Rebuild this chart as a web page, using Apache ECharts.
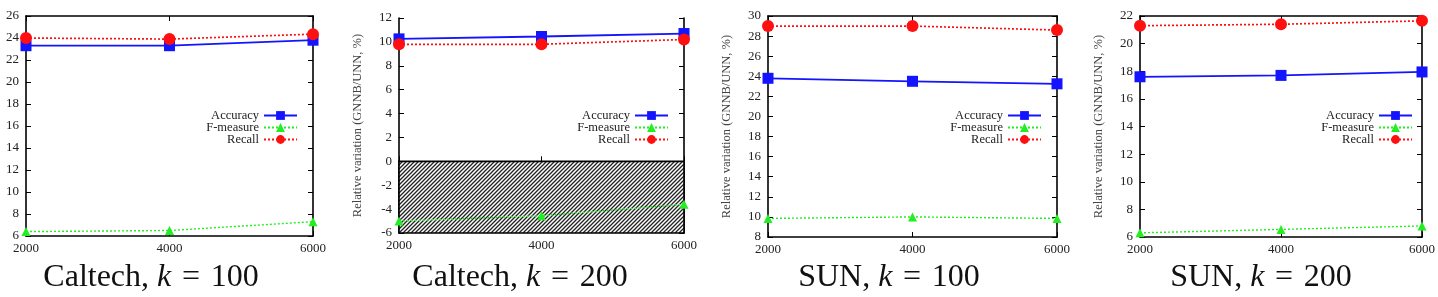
<!DOCTYPE html>
<html>
<head>
<meta charset="utf-8">
<script src="https://cdn.jsdelivr.net/npm/echarts@6/dist/echarts.min.js"></script>
<style>
html,body{margin:0;padding:0;background:#fff;}
#chart{width:1438px;height:297px;}
</style>
</head>
<body>
<div id="chart"></div>
<script>
// ---- data ----
const xValues = [2000, 4000, 6000];
const xTicks = [2000, 4000, 6000];
const seriesNames = ['Accuracy', 'F-measure', 'Recall'];
const panelTitles = ['Caltech, {i|k}\u2004=\u2004100', 'Caltech, {i|k}\u2004=\u2004200', 'SUN, {i|k}\u2004=\u2004100', 'SUN, {i|k}\u2004=\u2004200'];
const yAxisName = 'Relative variation (GNNB/UNN, %)';

const caltech100Accuracy = [23.3, 23.3, 23.8];
const caltech100FMeasure = [6.4, 6.5, 7.3];
const caltech100Recall = [24.0, 23.9, 24.35];

const caltech200Accuracy = [10.25, 10.45, 10.7];
const caltech200FMeasure = [-5.0, -4.55, -3.6];
const caltech200Recall = [9.8, 9.8, 10.2];

const sun100Accuracy = [23.8, 23.5, 23.25];
const sun100FMeasure = [9.85, 10.0, 9.85];
const sun100Recall = [29.0, 29.0, 28.6];

const sun200Accuracy = [17.6, 17.7, 17.95];
const sun200FMeasure = [6.3, 6.55, 6.8];
const sun200Recall = [21.3, 21.4, 21.65];

const yMins = [6, -6, 8, 6];
const yMaxs = [26, 12, 30, 22];
const hatchRange = [-6, 0]; // shaded negative region in Caltech k=200

// ---- layout ----
const panels = [
  {left: 26, top: 16, width: 287, height: 220, acc: caltech100Accuracy, f: caltech100FMeasure, rec: caltech100Recall, yName: false, titleX: 151},
  {left: 399, top: 18, width: 285, height: 215, acc: caltech200Accuracy, f: caltech200FMeasure, rec: caltech200Recall, yName: true, titleX: 520, hatch: true},
  {left: 768, top: 16, width: 289, height: 221, acc: sun100Accuracy, f: sun100FMeasure, rec: sun100Recall, yName: true, titleX: 889},
  {left: 1140, top: 16, width: 288, height: 221, acc: sun200Accuracy, f: sun200FMeasure, rec: sun200Recall, yName: true, titleX: 1261}
];

const FONT = '"Liberation Serif", "DejaVu Serif", serif';
const W = 1438;

function hatchPattern() {
  const c = document.createElement('canvas');
  c.width = 4; c.height = 4;
  const g = c.getContext('2d');
  g.fillStyle = '#ffffff';
  g.fillRect(0, 0, 4, 4);
  g.strokeStyle = '#222';
  g.lineWidth = 1.3;
  g.beginPath();
  g.moveTo(-1, 5); g.lineTo(5, -1);
  g.moveTo(-1, 1); g.lineTo(1, -1);
  g.moveTo(3, 5); g.lineTo(5, 3);
  g.stroke();
  return {image: c, repeat: 'repeat'};
}

const grid = [], xAxis = [], yAxis = [], series = [], legend = [], title = [];
const axisLineStyle = {color: '#000', width: 1.6};

panels.forEach((p, i) => {
  grid.push({left: p.left, top: p.top, width: p.width, height: p.height, containLabel: false});
  xAxis.push({
    type: 'value', gridIndex: i, min: 2000, max: 6000, interval: 2000, position: 'bottom',
    axisLine: {show: true, lineStyle: axisLineStyle},
    axisTick: {show: true, inside: true, length: 5, lineStyle: {color: '#000', width: 1}},
    axisLabel: {show: true, margin: 6, fontFamily: FONT, fontSize: 13, color: '#222',
      formatter: v => xTicks.includes(v) ? String(v) : ''},
    splitLine: {show: false}
  });
  xAxis.push({
    type: 'value', gridIndex: i, min: 2000, max: 6000, interval: 2000, position: 'top',
    axisLine: {show: true, lineStyle: axisLineStyle},
    axisTick: {show: true, inside: true, length: 5, lineStyle: {color: '#000', width: 1}},
    axisLabel: {show: false}, splitLine: {show: false}
  });
  yAxis.push({
    type: 'value', gridIndex: i, min: yMins[i], max: yMaxs[i], interval: 2, position: 'left',
    name: p.yName ? yAxisName : '', nameLocation: 'middle', nameGap: 35, nameRotate: 90,
    nameTextStyle: {fontFamily: FONT, fontSize: 12.5, color: '#444'},
    axisLine: {show: true, lineStyle: axisLineStyle},
    axisTick: {show: true, inside: true, length: 5, lineStyle: {color: '#000', width: 1}},
    axisLabel: {show: true, margin: 7, fontFamily: FONT, fontSize: 13, color: '#222'},
    splitLine: {show: false}
  });
  yAxis.push({
    type: 'value', gridIndex: i, min: yMins[i], max: yMaxs[i], interval: 2, position: 'right',
    axisLine: {show: true, lineStyle: axisLineStyle},
    axisTick: {show: true, inside: true, length: 5, lineStyle: {color: '#000', width: 1}},
    axisLabel: {show: false}, splitLine: {show: false}
  });
  const xi = 2 * i, yi = 2 * i;
  const mk = arr => xValues.map((x, k) => [x, arr[k]]);
  const fSeries = {
    name: 'F-measure', type: 'line', xAxisIndex: xi, yAxisIndex: yi, data: mk(p.f),
    symbol: 'triangle', symbolSize: 9, clip: false, z: 3,
    itemStyle: {color: '#22ee22'},
    lineStyle: {color: '#22ee22', width: 1.4, type: [2, 2]}
  };
  if (p.hatch) {
    fSeries.markArea = {
      silent: true,
      itemStyle: {color: hatchPattern(), borderColor: '#000', borderWidth: 1.6},
      data: [[{xAxis: 2000, yAxis: hatchRange[0]}, {xAxis: 6000, yAxis: hatchRange[1]}]]
    };
  }
  series.push({
    name: 'Accuracy', type: 'line', xAxisIndex: xi, yAxisIndex: yi, data: mk(p.acc),
    symbol: 'rect', symbolSize: 11, clip: false, z: 4,
    itemStyle: {color: '#1414ff'},
    lineStyle: {color: '#1414ff', width: 1.8, type: 'solid'}
  });
  series.push(fSeries);
  series.push({
    name: 'Recall', type: 'line', xAxisIndex: xi, yAxisIndex: yi, data: mk(p.rec),
    symbol: 'circle', symbolSize: 12, clip: false, z: 4,
    itemStyle: {color: '#ff1010'},
    lineStyle: {color: '#ff1010', width: 1.7, type: [2, 2]}
  });
  legend.push({
    data: seriesNames, orient: 'vertical', align: 'right',
    right: W - (p.left + p.width - 15), top: 109,
    itemWidth: 33, itemHeight: 11, itemGap: -1, padding: 0,
    textStyle: {fontFamily: FONT, fontSize: 12.5, color: '#222'},
    selectedMode: false
  });
  title.push({
    text: panelTitles[i], left: p.titleX, top: 262, textAlign: 'center', padding: 0,
    textStyle: {fontFamily: FONT, fontSize: 32, fontWeight: 'normal', color: '#111',
      rich: {i: {fontFamily: FONT, fontSize: 32, fontStyle: 'italic', color: '#111'}}}
  });
});

const chart = echarts.init(document.getElementById('chart'), null, {renderer: 'canvas'});
chart.setOption({
  animation: false,
  backgroundColor: '#fff',
  title, grid, xAxis, yAxis, series, legend
});
</script>
</body>
</html>
